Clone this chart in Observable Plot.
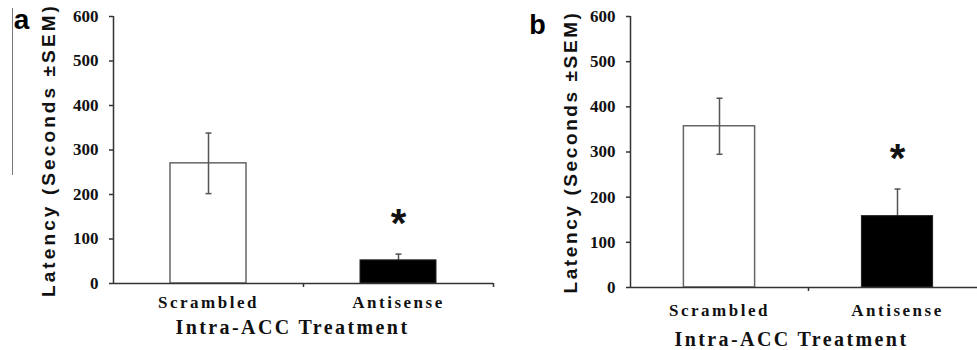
<!DOCTYPE html>
<html>
<head>
<meta charset="utf-8">
<script src="https://cdn.jsdelivr.net/npm/d3@7"></script>
<script src="https://cdn.jsdelivr.net/npm/@observablehq/plot@0.6"></script>
<style>
  html, body { margin: 0; padding: 0; background: #fff; }
  #wrap { position: relative; width: 977px; height: 350px; overflow: hidden; background: #fff; }
  .panel { position: absolute; top: 0; }
  #artifact { position: absolute; left: 12px; top: 8px; width: 1px; height: 167px; background: #777; }
</style>
</head>
<body>
<div id="wrap">
  <div id="artifact"></div>
  <div class="panel" id="pa" style="left:0px"></div>
  <div class="panel" id="pb" style="left:500px"></div>
</div>
<script>
// ---- data ----
const categories = ["Scrambled", "Antisense"];
const meansA = [270, 52];
const semsA = [68, 14];
const meansB = [357, 158];
const semsB = [62, 60];
const barFills = ["white", "black"];
const significant = [false, true];
const yTicks = [0, 100, 200, 300, 400, 500, 600];
const panelLetters = ["a", "b"];
const yTitle = "Latency (Seconds ±SEM)";
const xTitle = "Intra-ACC Treatment";

const SERIF = "'Liberation Serif', 'Times New Roman', serif";
const SANS = "'Liberation Sans', Arial, sans-serif";

const capSymbol = { draw(ctx) { ctx.moveTo(-3, 0); ctx.lineTo(3, 0); } };

function styleText(t, family, size, weight, ls) {
  t.style.setProperty("font-family", family, "important");
  t.style.setProperty("font-size", size + "px", "important");
  t.style.setProperty("font-weight", weight, "important");
  if (ls) t.style.setProperty("letter-spacing", ls, "important");
}

function makePanel(cfg) {
  const data = categories.map((c, i) => ({
    cat: c, i, mean: cfg.means[i], sem: cfg.sems[i], fill: barFills[i], sig: significant[i]
  }));
  const whites = data.filter(d => d.fill === "white");
  const blacks = data.filter(d => d.fill === "black");
  const caps = data.flatMap(d => [{ ...d, v: d.mean - d.sem }, { ...d, v: d.mean + d.sem }]);
  const barX1 = d => d.i + 0.3, barX2 = d => d.i + 0.7, mid = d => d.i + 0.5;

  const svg = Plot.plot({
    width: cfg.width,
    height: 350,
    marginLeft: cfg.x0, marginRight: 0, marginTop: cfg.yTop, marginBottom: 350 - cfg.y0,
    x: { domain: [0, 2], range: [cfg.x0, cfg.x1] },
    y: { domain: [0, 600], range: [cfg.y0, cfg.yTop] },
    style: { background: "transparent", overflow: "hidden" },
    marks: [
      Plot.rect(whites, { x1: barX1, x2: barX2, y1: 0, y2: "mean", fill: "white", stroke: "#666", strokeWidth: 1.5 }),
      Plot.ruleX(data, { x: mid, y1: d => d.mean - d.sem, y2: d => d.mean + d.sem, stroke: "#555", strokeWidth: 1.5 }),
      Plot.dot(caps, { x: mid, y: "v", symbol: capSymbol, stroke: "#555", strokeWidth: 1.5, fill: "none" }),
      Plot.rect(blacks, { x1: barX1, x2: barX2, y1: 0, y2: "mean", fill: "black", stroke: "#222", strokeWidth: 1 }),
      Plot.ruleY([0], { x1: 0, x2: 2, stroke: "#333", strokeWidth: 1.5 }),
      Plot.ruleX([0], { y1: 0, y2: 600, stroke: "#333", strokeWidth: 1.5 }),
      Plot.axisY({ ticks: yTicks, tickSize: 4, tickFormat: () => "", label: null, stroke: "#333", strokeWidth: 1.5 }),
      Plot.text(yTicks, { x: 0, y: d => d, text: d => String(d), dx: -15, textAnchor: "end", lineAnchor: "middle",
                          fontSize: cfg.tickFont, fontFamily: SERIF, fontWeight: "bold", fill: "#111" }),
      Plot.axisX({ ticks: [1, 2], tickSize: 4, tickFormat: () => "", label: null, stroke: "#333", strokeWidth: 1.5 }),
      Plot.axisX({ ticks: [0.5, 1.5], tickFormat: d => categories[Math.floor(d)], tickSize: 0, tickPadding: cfg.catPad, label: null }),
      Plot.text([yTitle], { x: 0, y: 300, text: d => d, rotate: -90, dx: cfg.yTitleDx, textAnchor: "middle", lineAnchor: "middle" }),
      Plot.text([xTitle], { x: 1, y: 0, text: d => d, dx: cfg.xTitleDx, dy: cfg.xTitleDy, lineAnchor: "middle" }),
      Plot.text([cfg.letter], { x: 0, y: 600, text: d => d, dx: cfg.letterDx, dy: cfg.letterDy, lineAnchor: "middle" }),
      Plot.text(data.filter(d => d.sig), { x: mid, y: d => d.mean + d.sem, text: () => "*", dy: -30, lineAnchor: "middle" })
    ]
  });
  svg.querySelectorAll("text").forEach(t => {
    const s = t.textContent.trim();
    if (/^[0-9]+$/.test(s)) { styleText(t, SERIF, cfg.tickFont, "bold"); t.style.fill = "#111"; }
    else if (categories.includes(s)) { styleText(t, SERIF, cfg.catFont, "bold", cfg.catLS); t.style.fill = "#111"; }
    else if (s === yTitle) { styleText(t, SANS, cfg.yTitleFont, "bold", cfg.yTitleLS); t.style.fill = "#111"; }
    else if (s === xTitle) { styleText(t, SERIF, cfg.xTitleFont, "bold", cfg.xTitleLS); t.style.fill = "#111"; }
    else if (s === cfg.letter) { styleText(t, SANS, cfg.letterFont, "bold"); t.style.fill = "black"; }
    else if (s === "*") { styleText(t, SANS, 40, "bold"); t.style.fill = "#111"; }
  });
  return svg;
}

document.getElementById("pa").append(makePanel({
  letter: panelLetters[0], means: meansA, sems: semsA,
  width: 500, x0: 113, x1: 493, y0: 283, yTop: 16,
  tickFont: 17, catFont: 17, catPad: 12, catLS: "2.5px",
  yTitleDx: -65, yTitleFont: 19, yTitleLS: "3.1px",
  xTitleDx: -11, xTitleDy: 44, xTitleFont: 20, xTitleLS: "2.4px",
  letterDx: -92, letterDy: 4, letterFont: 28
}));
document.getElementById("pb").append(makePanel({
  letter: panelLetters[1], means: meansB, sems: semsB,
  width: 477, x0: 130, x1: 486, y0: 287, yTop: 16,
  tickFont: 17, catFont: 17, catPad: 16, catLS: "2.5px",
  yTitleDx: -60, yTitleFont: 19, yTitleLS: "2.6px",
  xTitleDx: -17, xTitleDy: 52, xTitleFont: 20, xTitleLS: "2.4px",
  letterDx: -93, letterDy: 9, letterFont: 27
}));
</script>
</body>
</html>
